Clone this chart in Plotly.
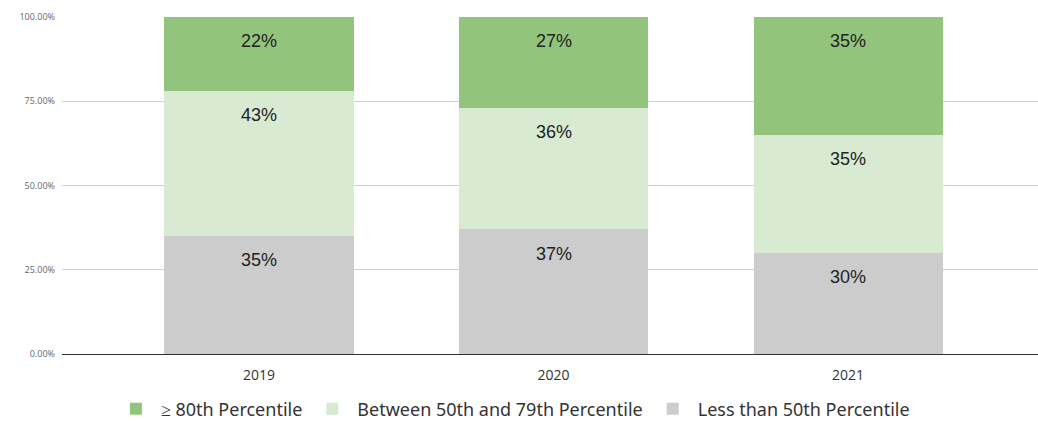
import plotly.graph_objects as go

years = ["2019", "2020", "2021"]
below_50 = [35, 37, 30]
between_50_79 = [43, 36, 35]
above_80 = [22, 27, 35]

series = [
    ("Less than 50th Percentile", below_50, "#cccccc"),
    ("Between 50th and 79th Percentile", between_50_79, "#d9ead3"),
    ("\u2265 80th Percentile", above_80, "#93c47d"),
]

fig = go.Figure()
for name, vals, color in series:
    fig.add_trace(go.Bar(
        x=years, y=vals, name=name, marker=dict(color=color, line=dict(width=0)),
        width=0.642, hoverinfo="skip",
    ))

# value labels sit just below the top of each segment
annotations = []
base = [0] * len(years)
for name, vals, color in series:
    for i, v in enumerate(vals):
        top = base[i] + v
        annotations.append(dict(
            x=i, y=top - 7.2, text=f"{v}%", showarrow=False,
            font=dict(size=18, color="#222222", family="Liberation Sans"),
            xref="x", yref="y",
        ))
        base[i] = top

fig.update_layout(
    barmode="stack",
    width=1038, height=421,
    margin=dict(l=62, r=0, t=17, b=67, autoexpand=False),
    paper_bgcolor="white", plot_bgcolor="white",
    annotations=annotations,
    legend=dict(
        orientation="h", traceorder="reversed",
        x=0.462, xanchor="center", y=-0.163, yanchor="middle",
        font=dict(size=18, color="#333333", family="Noto Sans"),
        itemwidth=40,
    ),
    xaxis=dict(
        type="category", range=[-0.669, 2.645],
        showgrid=False, showline=False, ticks="",
        tickfont=dict(size=14, color="#333333", family="Open Sans"),
        ticklabelstandoff=11,
    ),
    yaxis=dict(
        range=[0, 100], tickvals=[0, 25, 50, 75, 100],
        ticktext=["0.00%", "25.00%", "50.00%", "75.00%", "100.00%"],
        showgrid=True, gridcolor="#d0d0d0", gridwidth=1,
        zeroline=True, zerolinecolor="#333333", zerolinewidth=1,
        tickfont=dict(size=9, color="#666666", family="Open Sans"),
        ticklabelstandoff=6,
    ),
)

fig.write_html("out.html")
